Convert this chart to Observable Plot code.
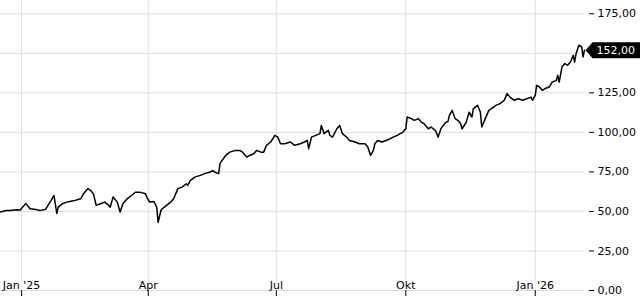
<!DOCTYPE html>
<html>
<head>
<meta charset="utf-8">
<script src="https://cdn.jsdelivr.net/npm/d3@7"></script>
<script src="https://cdn.jsdelivr.net/npm/@observablehq/plot@0.6"></script>
<style>
  html, body { margin: 0; padding: 0; background: #fff; }
</style>
</head>
<body>
<div id="chart"></div>
<script>
const dates = [
  "2024-12-17","2024-12-21","2024-12-24","2024-12-28","2024-12-31","2025-01-04","2025-01-07","2025-01-11",
  "2025-01-14","2025-01-18","2025-01-22","2025-01-24","2025-01-26","2025-01-27","2025-01-30","2025-02-02",
  "2025-02-05","2025-02-08","2025-02-12","2025-02-14","2025-02-17","2025-02-19","2025-02-21","2025-02-23",
  "2025-02-26","2025-03-01","2025-03-04","2025-03-05","2025-03-07","2025-03-10","2025-03-12","2025-03-14",
  "2025-03-17","2025-03-20","2025-03-23","2025-03-26","2025-03-30","2025-03-31","2025-04-02","2025-04-05",
  "2025-04-07","2025-04-08","2025-04-10","2025-04-11","2025-04-14","2025-04-17","2025-04-19","2025-04-21",
  "2025-04-22","2025-04-25","2025-04-28","2025-04-29","2025-05-01","2025-05-04","2025-05-08","2025-05-11",
  "2025-05-15","2025-05-17","2025-05-18","2025-05-21","2025-05-22","2025-05-26","2025-05-29","2025-06-02",
  "2025-06-05","2025-06-07","2025-06-10","2025-06-12","2025-06-15","2025-06-17","2025-06-20","2025-06-22",
  "2025-06-24","2025-06-27","2025-06-30","2025-07-02","2025-07-04","2025-07-07","2025-07-11","2025-07-14",
  "2025-07-18","2025-07-21","2025-07-23","2025-07-24","2025-07-26","2025-07-29","2025-08-01","2025-08-02",
  "2025-08-04","2025-08-07","2025-08-08","2025-08-10","2025-08-13","2025-08-15","2025-08-17","2025-08-20",
  "2025-08-22","2025-08-26","2025-08-29","2025-09-02","2025-09-04","2025-09-06","2025-09-08","2025-09-09",
  "2025-09-11","2025-09-14","2025-09-17","2025-09-20","2025-09-22","2025-09-25","2025-09-27","2025-09-29",
  "2025-10-01","2025-10-02","2025-10-05","2025-10-07","2025-10-10","2025-10-12","2025-10-14","2025-10-17",
  "2025-10-19","2025-10-22","2025-10-24","2025-10-26","2025-10-29","2025-10-31","2025-11-01","2025-11-03",
  "2025-11-05","2025-11-07","2025-11-09","2025-11-10","2025-11-13","2025-11-15","2025-11-17","2025-11-18",
  "2025-11-21","2025-11-23","2025-11-24","2025-11-26","2025-11-29","2025-12-01","2025-12-04","2025-12-07",
  "2025-12-10","2025-12-12","2025-12-14","2025-12-17","2025-12-20","2025-12-23","2025-12-26","2025-12-29",
  "2025-12-30","2026-01-01","2026-01-02","2026-01-04","2026-01-06","2026-01-08","2026-01-11","2026-01-13",
  "2026-01-16","2026-01-17","2026-01-18","2026-01-20","2026-01-22","2026-01-24","2026-01-26","2026-01-28",
  "2026-01-29","2026-01-30","2026-02-01","2026-02-03","2026-02-04","2026-02-05"
];
const values = [
  49.6,50.6,50.6,51.1,50.9,55.1,51.7,51.3,
  50.6,51.3,57.0,60.1,48.7,52.7,54.9,55.9,
  56.5,57.0,58.0,61.2,64.4,63.3,61.2,53.8,
  54.9,55.9,53.8,52.7,59.1,55.9,49.6,54.9,
  58.0,60.1,62.2,62.2,61.2,59.1,55.9,56.3,
  52.7,43.1,50.6,51.7,53.8,55.9,58.0,62.2,
  64.4,65.4,67.5,66.5,69.6,71.7,72.8,73.9,
  74.9,75.9,74.9,73.9,80.4,85.4,87.5,88.6,
  88.6,87.5,84.4,85.4,86.5,88.6,87.5,87.5,
  91.8,93.9,98.1,97.0,92.8,92.8,93.9,91.8,
  92.8,93.9,94.9,89.7,97.0,98.1,99.2,104.4,
  99.2,101.3,98.1,97.0,102.3,104.4,99.2,97.0,
  94.9,93.9,92.8,92.8,90.7,85.4,88.6,92.8,
  94.9,93.9,94.9,96.0,97.0,98.1,99.2,100.2,
  102.3,109.7,108.7,107.6,108.7,106.5,105.5,102.3,
  103.4,101.3,97.0,102.5,106.0,107.0,110.8,113.9,
  108.7,107.6,105.5,102.3,106.5,112.8,109.7,115.0,
  117.1,112.8,103.4,107.6,113.9,115.0,117.1,118.2,
  120.3,124.5,122.3,120.3,121.3,120.3,121.3,122.3,
  120.3,123.4,129.7,128.7,126.6,127.7,128.7,131.8,
  132.9,136.1,131.8,141.3,143.5,142.4,144.5,148.7,
  144.5,149.8,155.1,154.0,147.7,152.0
];
const yGridTicks = [0, 25, 50, 75, 100, 125, 150, 175];
const yLabelTicks = [0, 25, 50, 75, 100, 125, 175];
const xTickDates = ["2025-01-01", "2025-04-01", "2025-07-01", "2025-10-01", "2026-01-01"];
const xTickLabels = ["Jan '25", "Apr", "Jul", "Okt", "Jan '26"];

const data = dates.map((d, i) => ({date: new Date(d), value: values[i]}));
const xt = xTickDates.map(d => new Date(d));
const fmt = d3.formatLocale({decimal: ",", thousands: ".", grouping: [3], currency: ["", " €"]}).format(".2f");
const last = data[data.length - 1];

const arrow = {
  draw(ctx) {
    ctx.moveTo(0, 0);
    ctx.lineTo(7, -8);
    ctx.lineTo(58, -8);
    ctx.lineTo(58, 8);
    ctx.lineTo(7, 8);
    ctx.closePath();
  }
};

const chart = Plot.plot({
  width: 640,
  height: 300,
  marginTop: 0,
  marginBottom: 10,
  marginLeft: 0,
  marginRight: 56,
  style: {fontFamily: "DejaVu Sans", fontSize: "11px", color: "#000", background: "#fff", overflow: "visible"},
  x: {type: "utc", domain: [new Date("2024-12-17"), new Date("2026-02-05")], axis: null},
  y: {domain: [0, 183.4], axis: null},
  marks: [
    Plot.gridY(yGridTicks, {stroke: "#dcdcdc", strokeOpacity: 1}),
    Plot.gridX(xt, {stroke: "#dcdcdc", strokeOpacity: 1, insetBottom: 8}),
    Plot.line(data, {x: "date", y: "value", stroke: "#000", strokeWidth: 1.5}),
    Plot.axisY(yLabelTicks, {anchor: "right", tickSize: 5, tickPadding: 4, dx: 4, tickFormat: fmt, label: null}),
    Plot.axisX(xt, {anchor: "bottom", tickSize: 6, tickFormat: () => "", label: null}),
    Plot.text(xt, {x: d => d, text: (d, i) => xTickLabels[i], frameAnchor: "bottom", dy: -2}),
    Plot.dot([last], {x: "date", y: "value", symbol: arrow, fill: "#000", stroke: null, dx: 1}),
    Plot.text([last], {x: "date", y: "value", text: d => fmt(d.value), fill: "#fff", textAnchor: "start", dx: 12})
  ]
});
document.getElementById("chart").append(chart);
</script>
</body>
</html>
